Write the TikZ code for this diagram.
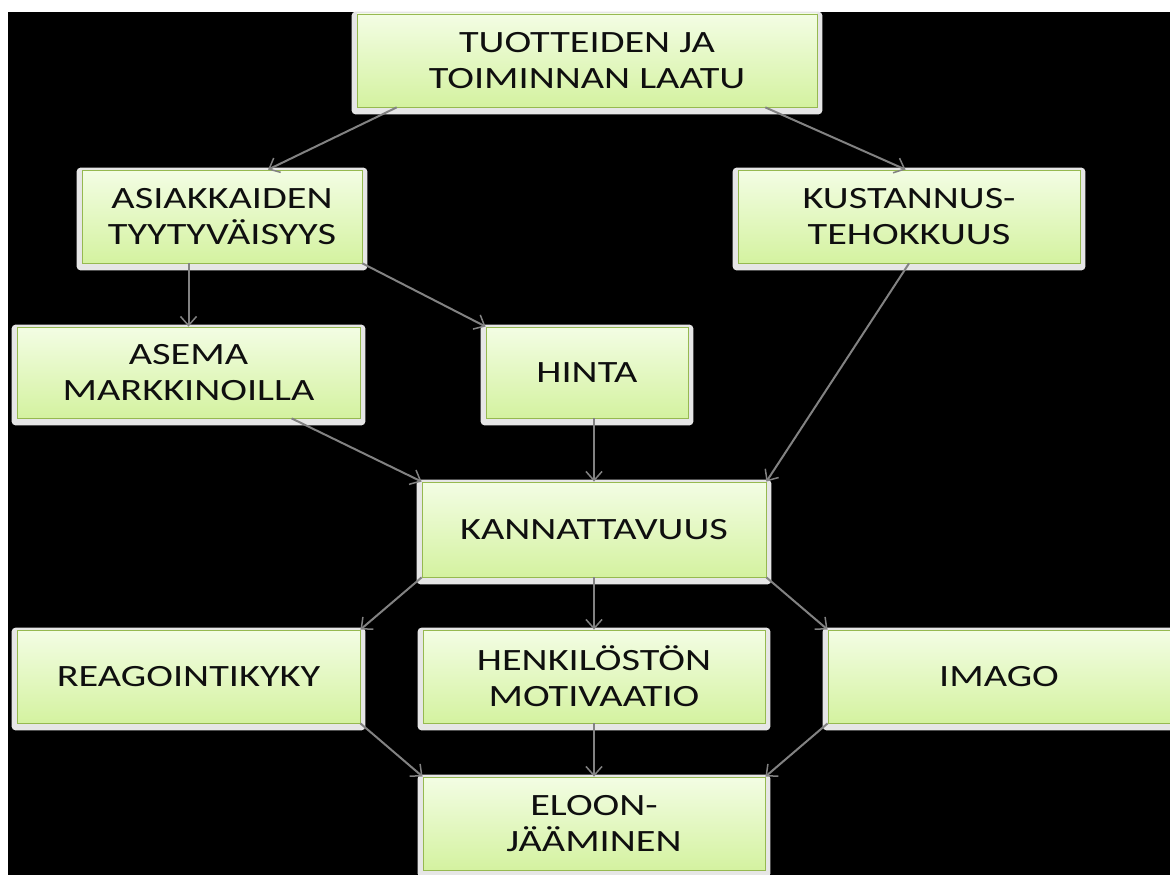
\documentclass[tikz,border=0pt]{standalone}
\usepackage{fontspec}
\setmainfont[FakeStretch=1.3]{Carlito}
\usetikzlibrary{arrows.meta,calc,backgrounds}
\definecolor{boxtop}{RGB}{243,253,228}
\definecolor{boxbot}{RGB}{212,242,160}
\definecolor{boxedge}{RGB}{150,185,80}
\definecolor{shadowc}{RGB}{230,230,230}
\definecolor{linkc}{RGB}{130,130,130}
\definecolor{txtc}{RGB}{15,15,15}
\begin{document}
\begin{tikzpicture}[x=1pt,y=-1pt,
  chartbox/.style={rectangle, draw=boxedge, line width=0.8pt, top color=boxtop, bottom color=boxbot,
    inner sep=0pt, align=center, text=txtc, font=\fontsize{31}{36}\selectfont},
  link/.style={draw=linkc, line width=2pt, -{Straight Barb[length=9pt,width=16pt,line width=1.5pt]}},
  shadowbox/.style={fill=shadowc, rounded corners=4pt}]
\useasboundingbox (0,0) rectangle (1170,875);

\node[chartbox, minimum width=460pt, minimum height=93pt] (top) at (587,60.5) {TUOTTEIDEN JA\\TOIMINNAN LAATU};
\node[chartbox, minimum width=280pt, minimum height=93pt] (asi) at (222,216.5) {ASIAKKAIDEN\\TYYTYVÄISYYS};
\node[chartbox, minimum width=342pt, minimum height=93pt] (kust) at (909,216.5) {KUSTANNUS-\\TEHOKKUUS};
\node[chartbox, minimum width=343pt, minimum height=91pt] (asema) at (188.5,372.5) {ASEMA\\MARKKINOILLA};
\node[chartbox, minimum width=202pt, minimum height=91pt] (hinta) at (587,372.5) {HINTA};
\node[chartbox, minimum width=344pt, minimum height=95pt] (kann) at (594,529.5) {KANNATTAVUUS};
\node[chartbox, minimum width=343pt, minimum height=93pt] (reag) at (188.5,676.5) {REAGOINTIKYKY};
\node[chartbox, minimum width=342pt, minimum height=93pt] (henk) at (594,676.5) {HENKILÖSTÖN\\MOTIVAATIO};
\node[chartbox, minimum width=342pt, minimum height=93pt] (imago) at (999,676.5) {IMAGO};
\node[chartbox, minimum width=342pt, minimum height=93pt] (eloon) at (594,823.5) {ELOON-\\JÄÄMINEN};

\begin{scope}[on background layer]
  \fill[white] (0,0) rectangle (1170,875);
  \fill[black] (8,12) rectangle (1170,875);
  \foreach \n in {top,asi,kust,asema,hinta,kann,reag,henk,imago,eloon}
    \fill[shadowbox] ($(\n.north west)+(-5,-2)$) rectangle ($(\n.south east)+(5,7)$);
\end{scope}

\draw[link] ($(top.south west)!0.087!(top.south east)$) -- ($(asi.north west)!0.664!(asi.north east)$);
\draw[link] ($(top.south west)!0.887!(top.south east)$) -- ($(kust.north west)!0.49!(kust.north east)$);
\draw[link] (asema.north |- asi.south) -- (asema.north);
\draw[link] (asi.south east) -- (hinta.north west);
\draw[link] (kust.south) -- (kann.north east);
\draw[link] ($(asema.south west)!0.8!(asema.south east)$) -- (kann.north west);
\draw[link] (kann.north |- hinta.south) -- (kann.north);
\draw[link] (kann.south west) -- (reag.north east);
\draw[link] (kann.south) -- (henk.north);
\draw[link] (kann.south east) -- (imago.north west);
\draw[link] (reag.south east) -- (eloon.north west);
\draw[link] (henk.south) -- (eloon.north);
\draw[link] (imago.south west) -- (eloon.north east);
\end{tikzpicture}
\end{document}
